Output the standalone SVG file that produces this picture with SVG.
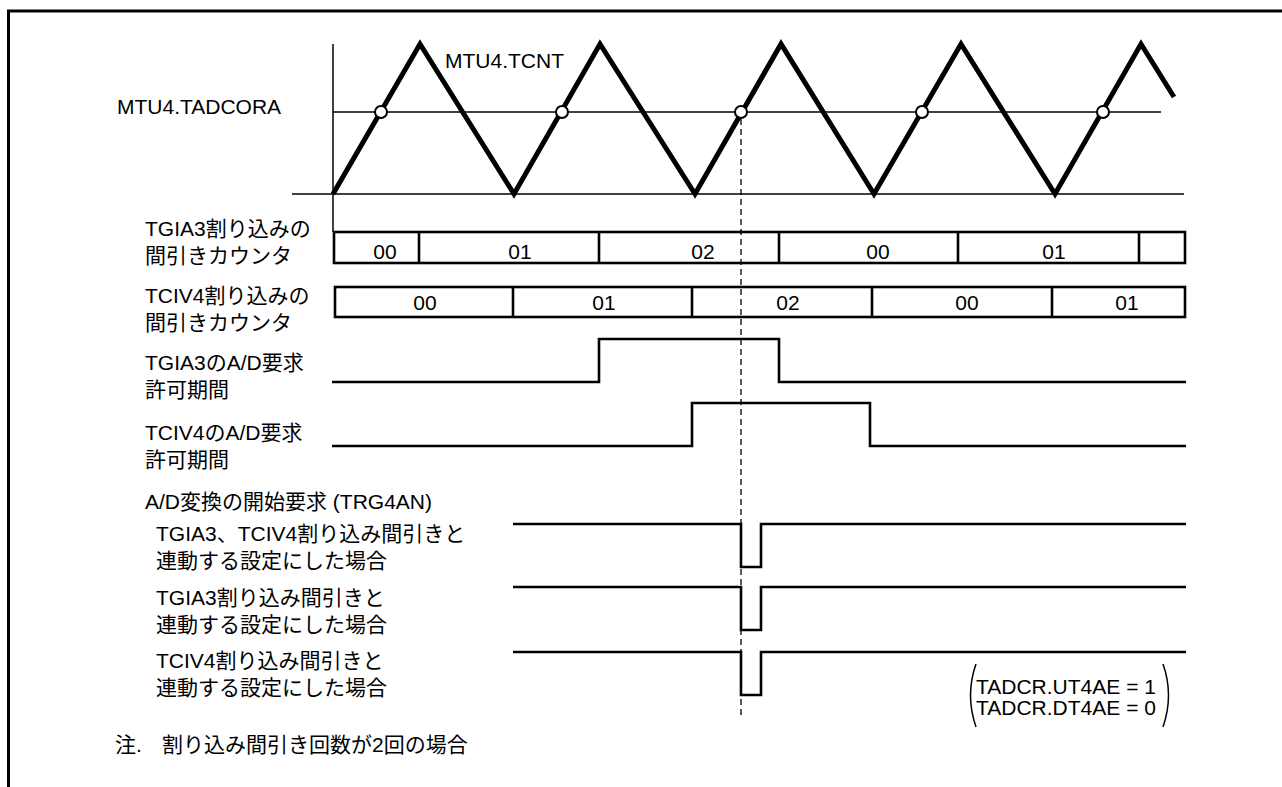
<svg xmlns="http://www.w3.org/2000/svg" width="1282" height="787" viewBox="0 0 1282 787">
<style>
text{font-family:"Liberation Sans","Noto Sans CJK JP",Arial,sans-serif;font-size:21px;fill:#000}
.c{text-anchor:middle}
.thin{fill:none;stroke:#000;stroke-width:1.5}
.sig{fill:none;stroke:#000;stroke-width:2.6;stroke-linejoin:miter}
.box{fill:#fff;stroke:#000;stroke-width:2.6}
.wave{fill:none;stroke:#000;stroke-width:5;stroke-linejoin:miter}
.dot{fill:#fff;stroke:#000;stroke-width:2}
</style>
<rect width="1282" height="787" fill="#fff"/>
<g id="frame"><path d="M8.5 787 V11 H1282" fill="none" stroke="#000" stroke-width="3"/></g>
<g id="tcnt-graph">
<line class="thin" x1="333" y1="44" x2="333" y2="232"/>
<line class="thin" x1="292" y1="194" x2="1184" y2="194"/>
<line class="thin" x1="333" y1="112" x2="1161" y2="112"/>
<polyline class="wave" points="333,194 420,44 514,194 600,44 695,194 781,44 874,194 961,44 1055,194 1141,44 1174,97"/>
<circle class="dot" cx="381" cy="112" r="6"/>
<circle class="dot" cx="562" cy="112" r="6"/>
<circle class="dot" cx="741" cy="112" r="6"/>
<circle class="dot" cx="922" cy="112" r="6"/>
<circle class="dot" cx="1103" cy="112" r="6"/>
<text x="117" y="114">MTU4.TADCORA</text>
<text x="445" y="68">MTU4.TCNT</text>
</g>
<g id="tgia3-counter">
<rect class="box" x="334" y="232" width="851" height="31"/>
<path class="sig" d="M419 232V263M599 232V263M779 232V263M958 232V263M1139 232V263"/>
<text class="c" x="385" y="259">00</text>
<text class="c" x="520" y="259">01</text>
<text class="c" x="703" y="259">02</text>
<text class="c" x="878" y="259">00</text>
<text class="c" x="1054" y="259">01</text>
<text x="145" y="236">TGIA3割り込みの</text>
<text x="145" y="263">間引きカウンタ</text>
</g>
<g id="tciv4-counter">
<rect class="box" x="335" y="287" width="850" height="30"/>
<path class="sig" d="M513 287V317M692 287V317M872 287V317M1052 287V317"/>
<text class="c" x="425" y="310">00</text>
<text class="c" x="604" y="310">01</text>
<text class="c" x="788" y="310">02</text>
<text class="c" x="967" y="310">00</text>
<text class="c" x="1127" y="310">01</text>
<text x="145" y="303">TCIV4割り込みの</text>
<text x="145" y="330">間引きカウンタ</text>
</g>
<g id="tgia3-ad">
<path class="sig" d="M332 382H599V339H779V382H1186"/>
<text x="145" y="370">TGIA3のA/D要求</text>
<text x="145" y="397">許可期間</text>
</g>
<g id="tciv4-ad">
<path class="sig" d="M332 446H692V403H870V446H1186"/>
<text x="145" y="440">TCIV4のA/D要求</text>
<text x="145" y="467">許可期間</text>
</g>
<g id="trg4an">
<text x="145" y="509">A/D変換の開始要求 (TRG4AN)</text>
</g>
<g id="case1">
<path class="sig" d="M513 524H741V567H761V524H1186"/>
<text x="156" y="541">TGIA3、TCIV4割り込み間引きと</text>
<text x="156" y="568">連動する設定にした場合</text>
</g>
<g id="case2">
<path class="sig" d="M513 587H741V630H761V587H1186"/>
<text x="156" y="605">TGIA3割り込み間引きと</text>
<text x="156" y="632">連動する設定にした場合</text>
</g>
<g id="case3">
<path class="sig" d="M513 652H741V695H761V652H1186"/>
<text x="156" y="668">TCIV4割り込み間引きと</text>
<text x="156" y="695">連動する設定にした場合</text>
</g>
<g id="connectors">
<line x1="741" y1="119" x2="741" y2="717" stroke="#000" stroke-width="1.3" stroke-dasharray="6,4"/>
</g>
<g id="tadcr-note">
<path class="thin" d="M976 664Q965 695 976 727M1163 664Q1174 695 1163 727"/>
<text x="976" y="694">TADCR.UT4AE = 1</text>
<text x="976" y="715">TADCR.DT4AE = 0</text>
</g>
<g id="footnote">
<text x="115" y="752">注.<tspan x="162">割り込み間引き回数が2回の場合</tspan></text>
</g>
</svg>
